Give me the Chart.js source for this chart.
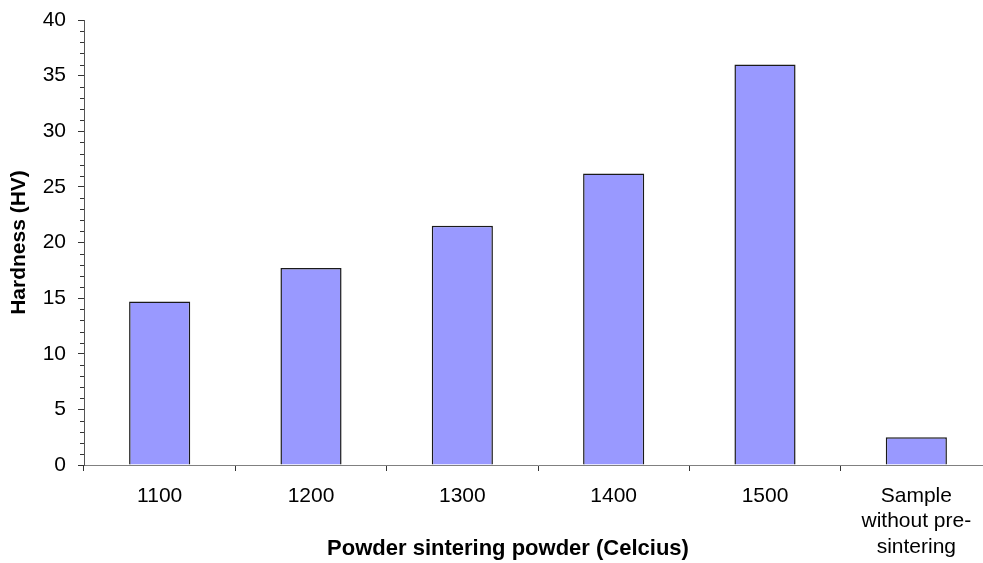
<!DOCTYPE html>
<html>
<head>
<meta charset="utf-8">
<script src="https://cdn.jsdelivr.net/npm/chart.js@4/dist/chart.umd.min.js"></script>
<style>
html,body{margin:0;padding:0;background:#fff;overflow:hidden;}
#wrap{position:relative;width:1000px;height:563px;}
</style>
</head>
<body>
<div id="wrap"><canvas id="c" width="1000" height="563"></canvas></div>
<script>
const categories = ["1100", "1200", "1300", "1400", "1500", ["Sample", "without pre-", "sintering"]];
const hardness = [14.7, 17.7, 21.5, 26.2, 36.0, 2.5];
const yTicks = [0, 5, 10, 15, 20, 25, 30, 35, 40];
const yTitle = "Hardness (HV)";
const xTitle = "Powder sintering powder (Celcius)";

const FONT = "'Liberation Sans', Arial, sans-serif";

const extras = {
  id: 'extras',
  afterDraw(chart) {
    const ctx = chart.ctx;
    const y = chart.scales.y;
    const area = chart.chartArea;
    ctx.save();
    ctx.strokeStyle = '#333';
    ctx.lineWidth = 1;
    for (let v = yTicks[0]; v <= yTicks[yTicks.length - 1]; v++) {
      if (yTicks.includes(v)) continue;
      const py = Math.round(y.getPixelForValue(v)) + 0.5;
      ctx.beginPath();
      ctx.moveTo(area.left - 4, py);
      ctx.lineTo(area.left, py);
      ctx.stroke();
    }
    ctx.fillStyle = '#000';
    ctx.font = 'bold 22px ' + FONT;
    ctx.textAlign = 'center';
    ctx.textBaseline = 'middle';
    ctx.fillText(xTitle, 508, 549);
    ctx.restore();
  }
};

new Chart(document.getElementById('c'), {
  type: 'bar',
  data: {
    labels: categories,
    datasets: [{
      data: hardness,
      backgroundColor: '#9999FF',
      borderColor: '#1a1a1a',
      borderWidth: 1.5,
      barPercentage: 0.404,
      categoryPercentage: 1.0
    }]
  },
  options: {
    responsive: false,
    animation: false,
    devicePixelRatio: 1,
    layout: { padding: { left: 7, right: 8, top: 20, bottom: 0 } },
    plugins: { legend: { display: false }, tooltip: { enabled: false } },
    scales: {
      x: {
        offset: true,
        afterFit(s) { s.height = 98; s.paddingTop = 0; s.paddingBottom = 0; },
        grid: {
          offset: true,
          drawOnChartArea: false,
          tickLength: 6,
          tickColor: '#333',
          color: '#333'
        },
        border: { color: '#808080', width: 1 },
        ticks: {
          color: '#000',
          font: { family: FONT, size: 21, lineHeight: 1.22 },
          padding: 12,
          maxRotation: 0,
          autoSkip: false
        }
      },
      y: {
        min: 0,
        max: 40,
        afterFit(s) { s.width = 84 - 7; s.paddingTop = 0; s.paddingBottom = 0; },
        afterBuildTicks(s) { s.ticks = yTicks.map(v => ({ value: v })); },
        grid: {
          drawOnChartArea: false,
          tickLength: 6,
          tickColor: '#333'
        },
        border: { color: '#555', width: 1 },
        ticks: {
          color: '#000',
          font: { family: FONT, size: 21 },
          padding: 12
        },
        title: {
          display: true,
          text: yTitle,
          color: '#000',
          font: { family: FONT, size: 21, weight: 'bold' },
          padding: 0
        }
      }
    }
  },
  plugins: [extras]
});
</script>
</body>
</html>
